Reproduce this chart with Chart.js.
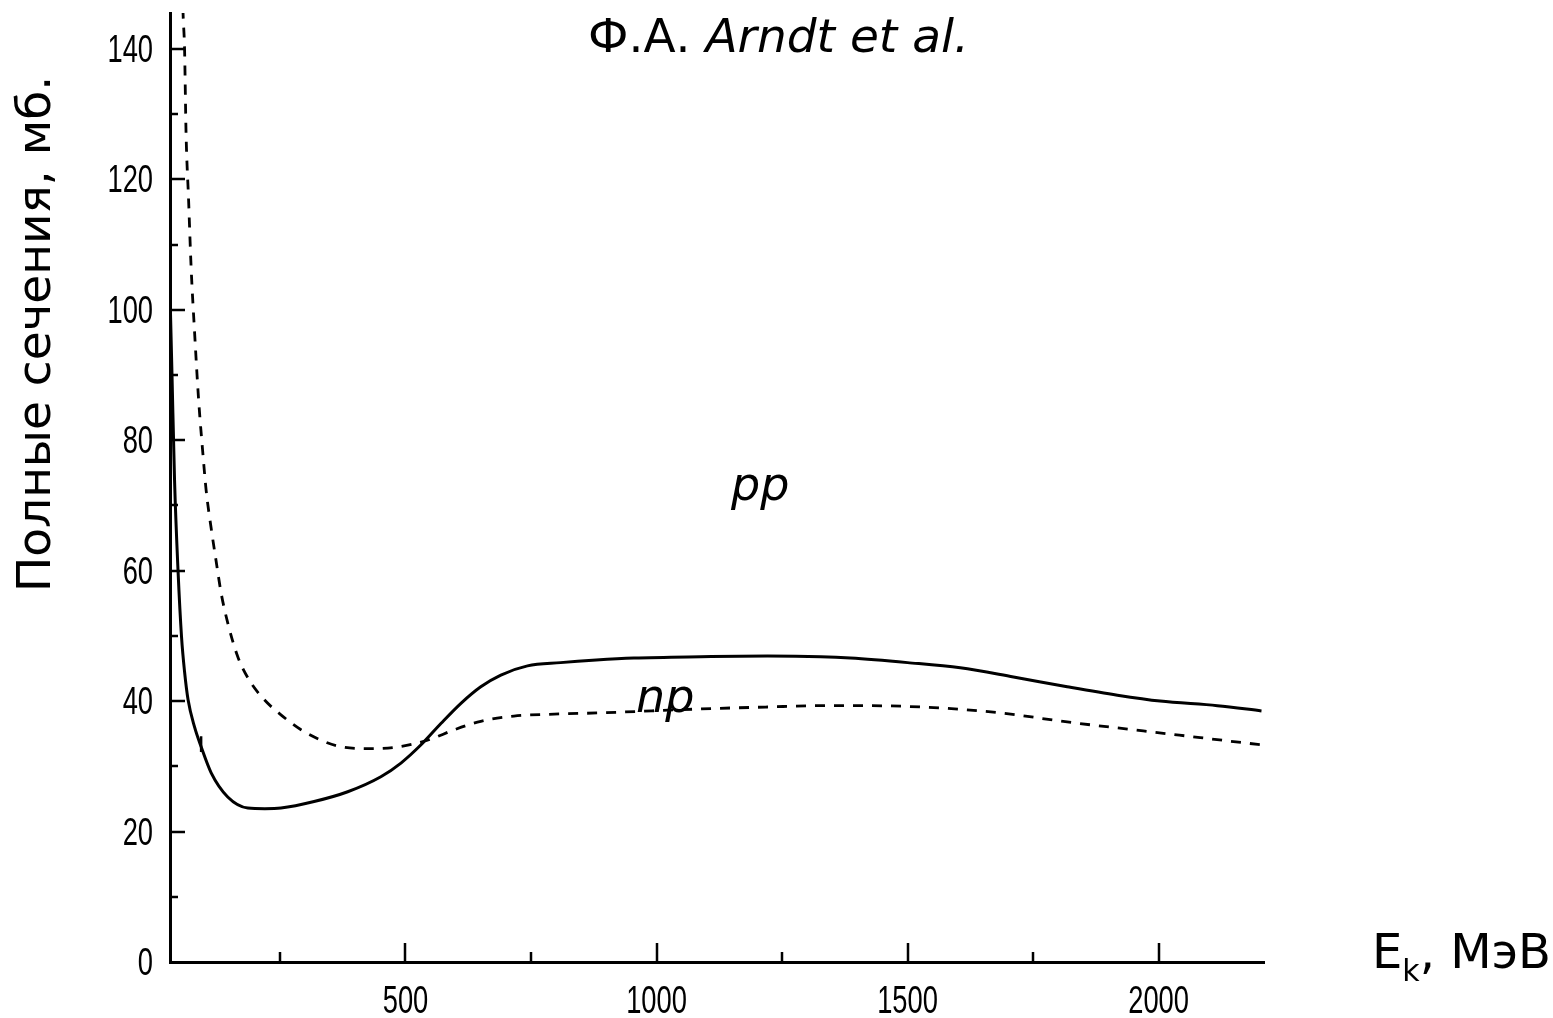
<!DOCTYPE html>
<html>
<head>
<meta charset="utf-8">
<script src="https://cdn.jsdelivr.net/npm/chart.js@4/dist/chart.umd.min.js"></script>
<style>
body { margin: 0; background: #fff; }
</style>
</head>
<body>
<canvas id="plot" width="1553" height="1018"></canvas>
<script>
// pp (solid) and np (dashed) total cross sections, mb vs kinetic energy, MeV
const ppEnergy = [31, 35, 40, 47, 54, 60, 67, 80, 93, 113, 146, 186, 220, 252, 318, 385, 451, 491, 531, 571, 611, 650, 690, 743, 809, 880, 955, 1088, 1221, 1327, 1386, 1500, 1605, 1711, 1818, 1918, 2003, 2117, 2205];
const ppSigma = [102.5, 90, 74, 60, 49.8, 44.5, 40.2, 36, 33, 29, 25.3, 23.6, 23.5, 23.6, 24.6, 26.1, 28.4, 30.5, 33.3, 36.6, 39.7, 42.2, 44.0, 45.4, 45.9, 46.3, 46.6, 46.8, 46.9, 46.8, 46.6, 45.9, 45.1, 43.7, 42.2, 40.9, 40.0, 39.3, 38.5];

const npEnergy = [55, 57, 60, 63, 68, 73, 80, 88, 97, 103, 113, 123, 133, 146, 166, 189, 219, 252, 292, 332, 365, 418, 478, 544, 597, 650, 716, 796, 889, 1088, 1221, 1327, 1420, 1552, 1685, 1818, 1951, 2083, 2182, 2205];
const npSigma = [152, 145.5, 140, 127, 116.9, 106.6, 96.5, 86.2, 77.5, 72.3, 66.5, 61.4, 56.5, 52, 46.8, 43.2, 40.2, 37.9, 35.6, 34.0, 33.1, 32.7, 32.9, 34.0, 35.6, 36.9, 37.7, 38.0, 38.2, 38.8, 39.1, 39.3, 39.3, 39.0, 38.2, 36.8, 35.6, 34.4, 33.5, 33.3];

// small stray vertical stroke on the pp curve
const markEnergy = [93, 93];
const markSigma = [34.6, 32.2];

const xMajor = [500, 1000, 1500, 2000];
const xMinor = [250, 750, 1250, 1750];
const yMajor = [0, 20, 40, 60, 80, 100, 120, 140];
const yMinor = [10, 30, 50, 70, 90, 110, 130];

const titleA = 'Ф.А. ';
const titleB = 'Arndt et al.';
const yTitle = 'Полные сечения, мб.';
const ppLabel = 'pp';
const npLabel = 'np';

const tickFont = "39px 'Liberation Sans', Arial, sans-serif";
const textFont = "'DejaVu Sans', sans-serif";

function pts(xs, ys)
{
	return xs.map((v, i) => ({ x: v, y: ys[i] }));
}

// condensed tick numbers, like the narrow face of the original
function narrow(ctx, txt, x, y, align)
{
	ctx.save();
	ctx.translate(x, y);
	ctx.scale(0.7, 1);
	ctx.textAlign = align;
	ctx.fillText(txt, 0, 0);
	ctx.restore();
}

const decor =
{
	id: 'decor',
	afterDraw(chart)
	{
		const ctx = chart.ctx;
		const sx = chart.scales.x;
		const sy = chart.scales.y;
		const left = chart.chartArea.left;
		const bottom = chart.chartArea.bottom;

		ctx.save();
		ctx.strokeStyle = '#000';
		ctx.lineWidth = 2.5;
		ctx.beginPath();
		for (const v of xMajor) { const p = Math.round(sx.getPixelForValue(v)); ctx.moveTo(p, bottom); ctx.lineTo(p, bottom - 19); }
		for (const v of xMinor) { const p = Math.round(sx.getPixelForValue(v)); ctx.moveTo(p, bottom); ctx.lineTo(p, bottom - 10); }
		for (const v of yMajor) { if (v == 0) continue; const p = Math.round(sy.getPixelForValue(v)); ctx.moveTo(left, p); ctx.lineTo(left + 15, p); }
		for (const v of yMinor) { const p = Math.round(sy.getPixelForValue(v)); ctx.moveTo(left, p); ctx.lineTo(left + 8, p); }
		ctx.stroke();

		ctx.fillStyle = '#000';
		ctx.textBaseline = 'alphabetic';

		// tick labels from the scales' own ticks
		ctx.font = tickFont;
		sx.ticks.forEach((t, i) => narrow(ctx, String(t.value), sx.getPixelForTick(i), 1013, 'center'));
		sy.ticks.forEach((t, i) => narrow(ctx, String(t.value), 153, sy.getPixelForTick(i) + 13, 'right'));

		ctx.textAlign = 'left';

		// title
		ctx.font = '47px ' + textFont;
		ctx.fillText(titleA, 588, 52);
		const w = ctx.measureText(titleA).width;
		ctx.font = 'italic 47px ' + textFont;
		ctx.fillText(titleB, 588 + w, 52);

		// curve labels
		ctx.font = 'italic 46px ' + textFont;
		ctx.fillText(ppLabel, 731, 500);
		ctx.fillText(npLabel, 636, 712);

		// x axis title with subscript
		let x = 1372;
		ctx.font = '48px ' + textFont;
		ctx.fillText('E', x, 968);
		x += ctx.measureText('E').width;
		ctx.font = '30px ' + textFont;
		ctx.fillText('k', x, 981);
		x += ctx.measureText('k').width;
		ctx.font = '48px ' + textFont;
		ctx.fillText(', МэВ', x, 968);

		// y axis title
		ctx.translate(50, 592);
		ctx.rotate(-Math.PI / 2);
		ctx.font = '47px ' + textFont;
		ctx.fillText(yTitle, 0, 0);
		ctx.restore();
	}
};

const ctx = document.getElementById('plot').getContext('2d');
const plot = new Chart(ctx,
{
	type: 'line',
	data:
	{
		datasets:
		[
			{
				label: 'pp',
				data: pts(ppEnergy, ppSigma),
				borderColor: '#000',
				borderWidth: 3,
				pointRadius: 0,
				fill: false,
				cubicInterpolationMode: 'monotone'
			},
			{
				label: 'np',
				data: pts(npEnergy, npSigma),
				borderColor: '#000',
				borderWidth: 2.8,
				borderDash: [10, 9],
				pointRadius: 0,
				fill: false,
				cubicInterpolationMode: 'monotone'
			},
			{
				label: 'mark',
				data: pts(markEnergy, markSigma),
				borderColor: '#000',
				borderWidth: 2.5,
				pointRadius: 0,
				tension: 0
			}
		]
	},
	options:
	{
		responsive: false,
		animation: false,
		layout: { padding: { top: 13, right: 289, left: 0, bottom: 0 } },
		plugins: { legend: { display: false }, tooltip: { enabled: false } },
		scales:
		{
			x:
			{
				type: 'linear',
				min: 31,
				max: 2210,
				grid: { display: false },
				border: { display: true, color: '#000', width: 3 },
				afterBuildTicks: (s) => { s.ticks = xMajor.map(v => ({ value: v })); },
				afterFit: (s) => { s.height = 56; s.paddingLeft = 0; s.paddingRight = 0; },
				ticks: { display: false }
			},
			y:
			{
				type: 'linear',
				min: 0,
				max: 145.5,
				grid: { display: false },
				border: { display: true, color: '#000', width: 3 },
				afterBuildTicks: (s) => { s.ticks = yMajor.map(v => ({ value: v })); },
				afterFit: (s) => { s.width = 170; s.paddingTop = 0; s.paddingBottom = 0; },
				ticks: { display: false }
			}
		}
	},
	plugins: [decor]
});
</script>
</body>
</html>
